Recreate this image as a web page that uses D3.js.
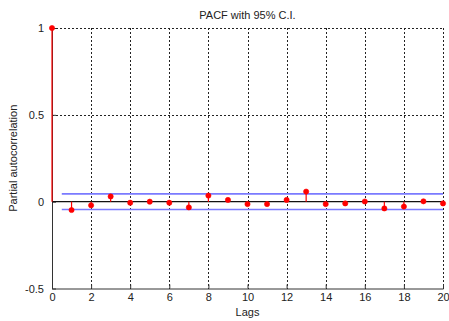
<!DOCTYPE html>
<html>
<head>
<meta charset="utf-8">
<script src="https://cdn.jsdelivr.net/npm/d3@7"></script>
<style>
  html, body { margin: 0; padding: 0; background: #fff; }
  svg { display: block; font-family: "Liberation Sans", Arial, sans-serif; }
</style>
</head>
<body>
<svg id="chart" width="449" height="321"></svg>
<script>
// Partial autocorrelation by lag
const lags = [0, 1, 2, 3, 4, 5, 6, 7, 8, 9, 10, 11, 12, 13, 14, 15, 16, 17, 18, 19, 20];
const pacf = [1, -0.048, -0.021, 0.030, -0.006, 0.000, -0.006, -0.033, 0.035, 0.010,
              -0.014, -0.014, 0.010, 0.058, -0.014, -0.010, 0.001, -0.039, -0.028, 0.002, -0.010];
// 95% confidence bounds
const ciBound = 0.045;
const ciRange = [0.5, 20];
const xTicks = [0, 2, 4, 6, 8, 10, 12, 14, 16, 18, 20];
const yTicks = [-0.5, 0, 0.5, 1];
const yTickLabels = ["-0.5", "0", "0.5", "1"];

const svg = d3.select("#chart");
const margin = { left: 52, right: 6, top: 28, bottom: 32.5 };
const W = 449, H = 321;

const x = d3.scaleLinear().domain([0, 20]).range([margin.left, W - margin.right]);
const y = d3.scaleLinear().domain([-0.5, 1]).range([H - margin.bottom, margin.top]);

// dotted grid
const grid = svg.append("g").attr("stroke", "#222").attr("stroke-width", 1)
  .attr("stroke-dasharray", "2,2").attr("shape-rendering", "crispEdges");
grid.selectAll("line.gx").data(xTicks.filter(d => d > 0)).join("line")
  .attr("x1", d => Math.round(x(d)) + 0.5).attr("x2", d => Math.round(x(d)) + 0.5)
  .attr("y1", y(1)).attr("y2", y(-0.5));
grid.selectAll("line.gy").data(yTicks.filter(d => d > -0.5 && d !== 0)).join("line")
  .attr("x1", x(0)).attr("x2", x(20))
  .attr("y1", d => Math.round(y(d)) + 0.5).attr("y2", d => Math.round(y(d)) + 0.5);

// axes (left and bottom only)
const xAxis = d3.axisBottom(x).tickValues(xTicks).tickSizeInner(-4).tickSizeOuter(0).tickPadding(8);
const yAxis = d3.axisLeft(y).tickValues(yTicks).tickFormat((d, i) => yTickLabels[i])
  .tickSizeInner(-4).tickSizeOuter(0).tickPadding(8);

const gx = svg.append("g").attr("transform", `translate(0,${y(-0.5)})`).call(xAxis);
const gy = svg.append("g").attr("transform", `translate(${x(0)},0)`).call(yAxis);
[gx, gy].forEach(g => {
  g.select(".domain").attr("stroke", "#333");
  g.selectAll(".tick line").attr("stroke", "#333");
  g.selectAll(".tick text").attr("fill", "#222").attr("font-size", 11)
    .attr("font-family", "Liberation Sans, Arial, sans-serif");
});
gx.selectAll(".tick text").attr("dy", "0.71em").attr("y", 5);

// confidence bounds
svg.append("g").selectAll("line").data([ciBound, -ciBound]).join("line")
  .attr("x1", x(ciRange[0])).attr("x2", x(ciRange[1]))
  .attr("y1", d => y(d)).attr("y2", d => y(d))
  .attr("stroke", "#7a7aff").attr("stroke-width", 1.6);

// zero baseline
svg.append("line")
  .attr("x1", x(0)).attr("x2", x(20)).attr("y1", y(0)).attr("y2", y(0))
  .attr("stroke", "#111").attr("stroke-width", 1.2);

// stems and markers
const data = lags.map((l, i) => ({ lag: l, v: pacf[i] }));
svg.append("g").selectAll("line").data(data).join("line")
  .attr("x1", d => x(d.lag)).attr("x2", d => x(d.lag))
  .attr("y1", y(0)).attr("y2", d => y(d.v))
  .attr("stroke", "#ff0000").attr("stroke-width", 1.2);
svg.append("g").selectAll("circle").data(data).join("circle")
  .attr("cx", d => x(d.lag)).attr("cy", d => y(d.v)).attr("r", 2.6)
  .attr("fill", "#ff0000").attr("stroke", "#ff0000").attr("stroke-width", 0.6);

// title and axis labels
svg.append("text").attr("x", (x(0) + x(20)) / 2).attr("y", 19)
  .attr("text-anchor", "middle").attr("font-size", 11).attr("fill", "#222")
  .text("PACF with 95% C.I.");
svg.append("text").attr("x", (x(0) + x(20)) / 2).attr("y", 316)
  .attr("text-anchor", "middle").attr("font-size", 11).attr("fill", "#222")
  .text("Lags");
svg.append("text")
  .attr("transform", `translate(17,${(y(1) + y(-0.5)) / 2}) rotate(-90)`)
  .attr("text-anchor", "middle").attr("font-size", 11).attr("fill", "#222")
  .text("Partial autocorrelation");
</script>
</body>
</html>
